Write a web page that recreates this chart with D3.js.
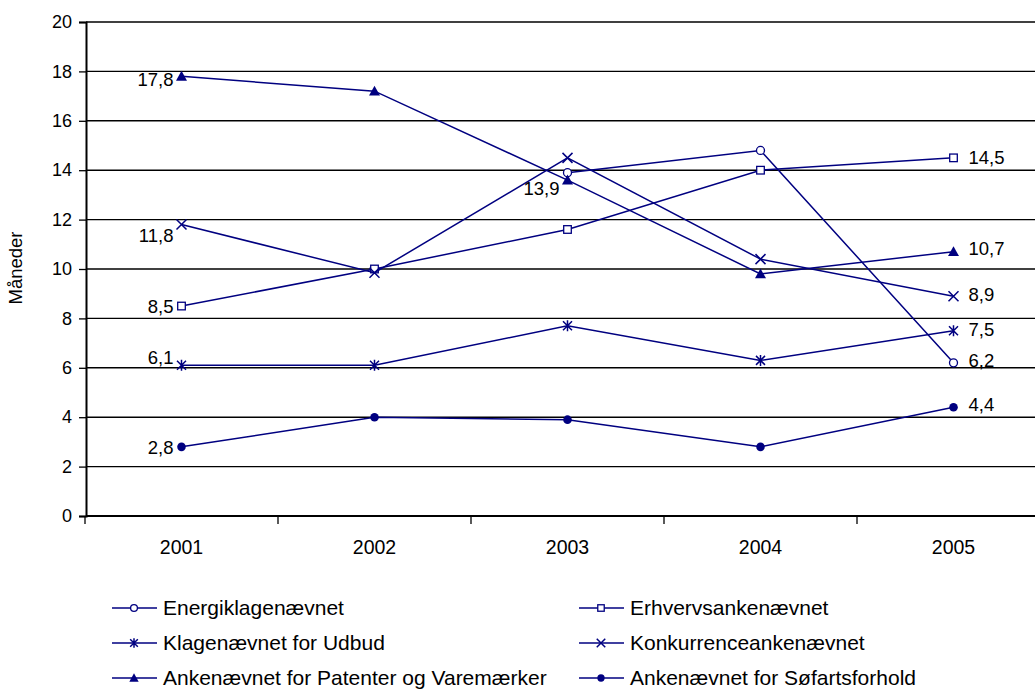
<!DOCTYPE html>
<html>
<head>
<meta charset="utf-8">
<script src="https://cdn.jsdelivr.net/npm/d3@7"></script>
<style>
  body { margin: 0; background: #fff; }
  text { font-family: "Liberation Sans", Arial, sans-serif; fill: #000; }
</style>
</head>
<body>
<div id="chart"></div>
<script>
(function() {
    var width = 1035,
        height = 691;

    var years = ["2001", "2002", "2003", "2004", "2005"];
    var yTicks = [0, 2, 4, 6, 8, 10, 12, 14, 16, 18, 20];

    var energi      = [null, null, 13.9, 14.8, 6.2];
    var erhvervs    = [8.5, 10.0, 11.6, 14.0, 14.5];
    var udbud       = [6.1, 6.1, 7.7, 6.3, 7.5];
    var konkurrence = [11.8, 9.85, 14.5, 10.4, 8.9];
    var patenter    = [17.8, 17.2, 13.6, 9.8, 10.7];
    var sofart      = [2.8, 4.0, 3.9, 2.8, 4.4];

    var seriesNames = ["Energiklagenævnet", "Erhvervsankenævnet", "Klagenævnet for Udbud",
                       "Konkurrenceankenævnet", "Ankenævnet for Patenter og Varemærker",
                       "Ankenævnet for Søfartsforhold"];
    var seriesValues = [energi, erhvervs, udbud, konkurrence, patenter, sofart];
    var seriesMarkers = ["circle", "square", "asterisk", "cross", "triangle", "dot"];

    // which points carry a value label: [series index, year index, side, dy]
    var labelPoints = [
        [4, 0, "left", 3], [3, 0, "left", 11], [1, 0, "left", 0], [2, 0, "left", -8], [5, 0, "left", 1],
        [0, 2, "left", 16],
        [1, 4, "right", 0], [4, 4, "right", -3], [3, 4, "right", -2], [2, 4, "right", -1],
        [0, 4, "right", -2], [5, 4, "right", -3]
    ];

    var navy = "#000080";
    var font = "Liberation Sans, Arial, sans-serif";

    var svg = d3.select("#chart")
        .append("svg")
        .attr("width", width)
        .attr("height", height);

    var x = d3.scaleBand()
        .domain(years)
        .range([85, 1050]);

    var y = d3.scaleLinear()
        .domain([0, 20])
        .range([516, 22]);

    function cx(i) { return x(years[i]) + x.bandwidth() / 2; }

    // gridlines
    svg.selectAll(".grid")
        .data(yTicks.filter(function(d) { return d > 0; }))
        .enter().append("line")
        .attr("class", "grid")
        .attr("x1", 86).attr("x2", 1050)
        .attr("y1", function(d) { return y(d); })
        .attr("y2", function(d) { return y(d); })
        .attr("stroke", "#000")
        .attr("stroke-width", 1.4);

    // y axis
    var yAxis = svg.append("g")
        .attr("transform", "translate(86,0)")
        .call(d3.axisLeft(y).tickValues(yTicks).tickSize(7).tickPadding(7));
    yAxis.select(".domain").attr("stroke", "#000").attr("stroke-width", 2);
    yAxis.selectAll(".tick line").attr("stroke", "#000").attr("stroke-width", 1.3);
    yAxis.selectAll(".tick text")
        .style("font-family", font)
        .style("font-size", "18px");

    // x axis
    var xAxis = svg.append("g")
        .attr("transform", "translate(0,516)")
        .call(d3.axisBottom(x).tickSize(0).tickPadding(24));
    xAxis.select(".domain").remove();
    xAxis.selectAll(".tick text")
        .style("font-family", font)
        .style("font-size", "19.5px");

    svg.append("line")
        .attr("x1", 86).attr("x2", 1050)
        .attr("y1", y(0)).attr("y2", y(0))
        .attr("stroke", "#000").attr("stroke-width", 2);

    svg.selectAll(".xtick")
        .data(years)
        .enter().append("line")
        .attr("class", "xtick")
        .attr("x1", function(d) { return x(d); })
        .attr("x2", function(d) { return x(d); })
        .attr("y1", y(0)).attr("y2", y(0) + 8)
        .attr("stroke", "#000").attr("stroke-width", 1.3);

    svg.append("text")
        .attr("transform", "translate(22," + (y(10) - 1) + ") rotate(-90)")
        .attr("text-anchor", "middle")
        .style("font-size", "18.5px")
        .text("Måneder");

    function drawMarker(g, type, px, py, s) {
        if (type === "circle") {
            g.append("circle").attr("cx", px).attr("cy", py).attr("r", 4 * s)
                .attr("fill", "#fff").attr("stroke", navy).attr("stroke-width", 1.3);
        } else if (type === "dot") {
            g.append("circle").attr("cx", px).attr("cy", py).attr("r", 4.3 * s)
                .attr("fill", navy);
        } else if (type === "square") {
            g.append("rect").attr("x", px - 3.8 * s).attr("y", py - 3.8 * s)
                .attr("width", 7.6 * s).attr("height", 7.6 * s)
                .attr("fill", "#fff").attr("stroke", navy).attr("stroke-width", 1.3);
        } else if (type === "triangle") {
            var h = 5.5 * s;
            g.append("path")
                .attr("d", "M" + px + "," + (py - h) + "L" + (px + h) + "," + (py + h * 0.8) +
                    "L" + (px - h) + "," + (py + h * 0.8) + "Z")
                .attr("fill", navy);
        } else if (type === "cross") {
            var c = 5 * s;
            g.append("path")
                .attr("d", "M" + (px - c) + "," + (py - c) + "L" + (px + c) + "," + (py + c) +
                    "M" + (px - c) + "," + (py + c) + "L" + (px + c) + "," + (py - c))
                .attr("stroke", navy).attr("stroke-width", 1.5).attr("fill", "none");
        } else if (type === "asterisk") {
            var a = 4.5 * s;
            g.append("path")
                .attr("d", "M" + (px - a) + "," + (py - a) + "L" + (px + a) + "," + (py + a) +
                    "M" + (px - a) + "," + (py + a) + "L" + (px + a) + "," + (py - a) +
                    "M" + px + "," + (py - a - 1) + "L" + px + "," + (py + a + 1))
                .attr("stroke", navy).attr("stroke-width", 1.5).attr("fill", "none");
        }
    }

    var line = d3.line()
        .defined(function(d) { return d !== null; })
        .x(function(d, i) { return cx(i); })
        .y(function(d) { return y(d); });

    seriesValues.forEach(function(vals, si) {
        var g = svg.append("g").attr("class", "series");
        g.append("path")
            .attr("d", line(vals))
            .attr("fill", "none")
            .attr("stroke", navy)
            .attr("stroke-width", 1.5);
        vals.forEach(function(v, i) {
            if (v === null) return;
            drawMarker(g, seriesMarkers[si], cx(i), y(v), 1);
        });
    });

    // value labels
    svg.selectAll(".vlabel")
        .data(labelPoints)
        .enter().append("text")
        .attr("class", "vlabel")
        .attr("x", function(d) { return cx(d[1]) + (d[2] === "left" ? -8 : 15); })
        .attr("y", function(d) { return y(seriesValues[d[0]][d[1]]) + d[3]; })
        .attr("dy", "0.35em")
        .attr("text-anchor", function(d) { return d[2] === "left" ? "end" : "start"; })
        .style("font-size", "18.5px")
        .text(function(d) { return String(seriesValues[d[0]][d[1]].toFixed(1)).replace(".", ","); });

    // legend
    var legendCols = [112, 579],
        legendRows = [608, 643, 678];

    seriesNames.forEach(function(name, si) {
        var lx = legendCols[si % 2],
            ly = legendRows[Math.floor(si / 2)];
        var g = svg.append("g").attr("class", "legend");
        g.append("line")
            .attr("x1", lx).attr("x2", lx + 45)
            .attr("y1", ly).attr("y2", ly)
            .attr("stroke", navy).attr("stroke-width", 1.5);
        drawMarker(g, seriesMarkers[si], lx + 22, ly, 0.85);
        g.append("text")
            .attr("x", lx + 51)
            .attr("y", ly)
            .attr("dy", "0.35em")
            .style("font-size", "21px")
            .text(name);
    });
})();
</script>
</body>
</html>
